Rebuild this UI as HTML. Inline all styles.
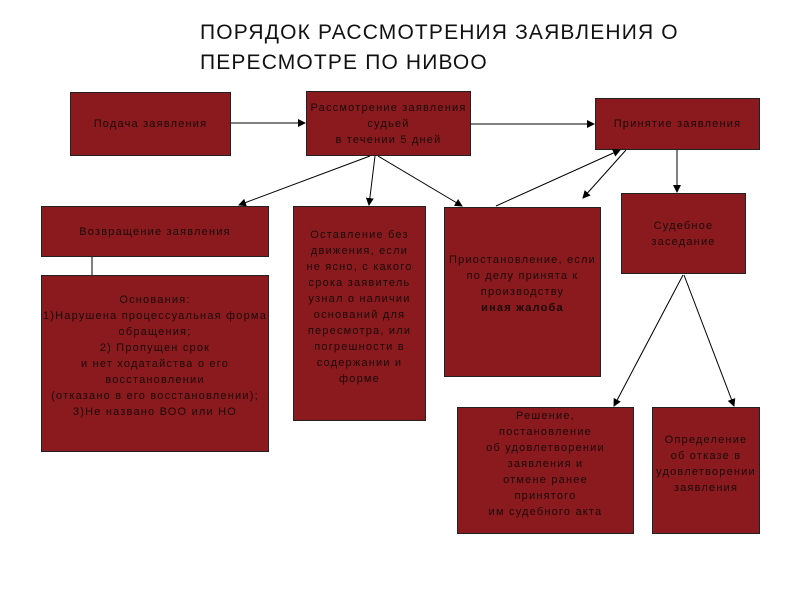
<!DOCTYPE html>
<html><head><meta charset="utf-8"><style>
body{margin:0;width:800px;height:600px;background:#fff;position:relative;overflow:hidden;font-family:"Liberation Sans","DejaVu Sans",sans-serif}
.t{position:absolute;left:200px;top:18px;font-size:21px;line-height:30px;color:#111;letter-spacing:1.15px}
.b{position:absolute;background:#8b1a1e;border:1px solid #222;box-sizing:border-box;color:#1a0a0a;font-size:11px;line-height:16px;text-align:center;display:flex;flex-direction:column;justify-content:center;letter-spacing:1.2px;white-space:nowrap;align-items:center}
svg{position:absolute;left:0;top:0}
</style></head><body>
<div class="t">ПОРЯДОК РАССМОТРЕНИЯ ЗАЯВЛЕНИЯ О<br>ПЕРЕСМОТРЕ ПО НИВОО</div>
<div class="b" style="left:70px;top:92px;width:161px;height:64px">Подача заявления</div>
<div class="b" style="left:306px;top:91px;width:165px;height:65px;justify-content:flex-start;padding-top:8px">Рассмотрение заявления<br>судьей<br>в течении 5 дней</div>
<div class="b" style="left:595px;top:98px;width:165px;height:52px">Принятие заявления</div>
<div class="b" style="left:41px;top:206px;width:228px;height:51px">Возвращение заявления</div>
<div class="b" style="left:41px;top:275px;width:228px;height:177px;justify-content:flex-start;padding-top:16px">Основания:<br>1)Нарушена процессуальная форма<br>обращения;<br>2) Пропущен срок<br>и нет ходатайства о его<br>восстановлении<br>(отказано в его восстановлении);<br>3)Не названо ВОО или НО</div>
<div class="b" style="left:293px;top:206px;width:133px;height:215px;justify-content:flex-start;padding-top:20px">Оставление без<br>движения, если<br>не ясно, с какого<br>срока заявитель<br>узнал о наличии<br>оснований для<br>пересмотра, или<br>погрешности в<br>содержании и<br>форме</div>
<div class="b" style="left:444px;top:207px;width:157px;height:170px;justify-content:flex-start;padding-top:44px">Приостановление, если<br>по делу принята к<br>производству<br><b>иная жалоба</b></div>
<div class="b" style="left:621px;top:193px;width:125px;height:81px;justify-content:flex-start;padding-top:24px">Судебное<br>заседание</div>
<div class="b" style="left:457px;top:407px;width:177px;height:127px;justify-content:flex-start;padding-top:0">Решение,<br>постановление<br>об удовлетворении<br>заявления и<br>отмене ранее<br>принятого<br>им судебного акта</div>
<div class="b" style="left:652px;top:407px;width:108px;height:127px;justify-content:flex-start;padding-top:24px">Определение<br>об отказе в<br>удовлетворении<br>заявления</div>
<svg width="800" height="600">
<defs><marker id="a" markerWidth="8" markerHeight="8" refX="7" refY="4" orient="auto" markerUnits="userSpaceOnUse"><path d="M0,0 L8,4 L0,8 z" fill="#000"/></marker></defs>
<g stroke="#000" stroke-width="1" fill="none">
<line x1="231" y1="123" x2="305" y2="123" marker-end="url(#a)"/>
<line x1="471" y1="124" x2="594" y2="124" marker-end="url(#a)"/>
<line x1="370" y1="156" x2="239" y2="205" marker-end="url(#a)"/>
<line x1="375" y1="156" x2="369" y2="205" marker-end="url(#a)"/>
<line x1="378" y1="156" x2="462" y2="206" marker-end="url(#a)"/>
<line x1="496" y1="206" x2="620" y2="150" marker-end="url(#a)"/>
<line x1="626" y1="150" x2="583" y2="198" marker-end="url(#a)"/>
<line x1="677" y1="150" x2="677" y2="192" marker-end="url(#a)"/>
<line x1="683" y1="275" x2="614" y2="406" marker-end="url(#a)"/>
<line x1="684" y1="275" x2="734" y2="406" marker-end="url(#a)"/>
<line x1="92" y1="257" x2="92" y2="275"/>
</g></svg>
</body></html>
